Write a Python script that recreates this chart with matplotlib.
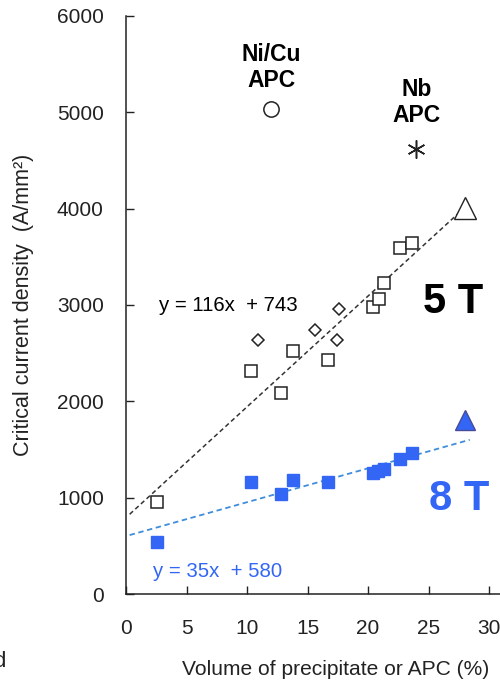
import matplotlib
matplotlib.use("Agg")
import matplotlib.pyplot as plt
import numpy as np

plt.rcParams['font.family'] = ['Liberation Sans', 'DejaVu Sans']

# 5 T data (open squares / diamonds)
sq5_x = [2.6, 10.3, 12.8, 13.8, 16.7, 20.4, 20.9, 21.3, 22.6, 23.6]
sq5_y = [955, 2320, 2090, 2520, 2430, 2980, 3060, 3230, 3590, 3645]
dia5_x = [10.9, 15.6, 17.4, 17.6]
dia5_y = [2640, 2740, 2640, 2960]
tri5_x, tri5_y = [28.0], [4010]

# 8 T data (blue filled squares)
sq8_x = [2.6, 10.3, 12.8, 13.8, 16.7, 20.4, 20.8, 21.3, 22.6, 23.6]
sq8_y = [540, 1163, 1040, 1184, 1163, 1256, 1277, 1298, 1400, 1464]
tri8_x, tri8_y = [28.0], [1807]

# APC points
nicu_x, nicu_y = [12.0], [5036]
nb_x, nb_y = [24.0], [4620]

# trend lines as drawn (slope, intercept, x range)
line5 = (115, 793, 0.3, 27.5)
line8 = (35.2, 601, 0.3, 28.4)
eq5 = 'y = 116x  + 743'
eq8 = 'y = 35x  + 580'

blue = '#3366f5'
lblue = '#3f8ddb'

fig = plt.figure(figsize=(5.0, 6.83), dpi=100)
ax = fig.add_axes([0.252, 0.1303, 0.748, 0.8463])

xl = np.linspace(line5[2], line5[3], 50)
ax.plot(xl, line5[0]*xl + line5[1], color='#333333', lw=1.1, dashes=(3, 2))
xl8 = np.linspace(line8[2], line8[3], 50)
ax.plot(xl8, line8[0]*xl8 + line8[1], color=lblue, lw=1.3, dashes=(3, 2))

ax.plot(sq5_x, sq5_y, 's', ms=8.5, mfc='white', mec='#222222', mew=1.1)
ax.plot(dia5_x, dia5_y, 'D', ms=6.5, mfc='white', mec='#222222', mew=1.1)
ax.plot(tri5_x, tri5_y, '^', ms=16, mfc='white', mec='#222222', mew=1.0)

ax.plot(sq8_x, sq8_y, 's', ms=8, mfc=blue, mec=blue)
ax.plot(tri8_x, tri8_y, '^', ms=15, mfc=blue, mec='#4a4a9a', mew=1.0)

ax.plot(nicu_x, nicu_y, 'o', ms=11, mfc='white', mec='#222222', mew=1.1)
ax.plot(nb_x, nb_y, marker=(6, 2, 0), ms=13, color='#222222', mew=1.1, ls='none')

ax.text(12.0, 5462, 'Ni/Cu\nAPC', ha='center', va='center', fontsize=16.5,
        fontweight='bold', linespacing=1.15)
ax.text(24.0, 5100, 'Nb\nAPC', ha='center', va='center', fontsize=16.5,
        fontweight='bold', linespacing=1.15)
ax.text(2.7, 2990, eq5, ha='left', va='center', fontsize=14.7)
ax.text(2.2, 230, eq8, ha='left', va='center', fontsize=14.7, color=blue)
ax.text(27.0, 3030, '5 T', ha='center', va='center', fontsize=30, fontweight='bold')
ax.text(27.5, 990, '8 T', ha='center', va='center', fontsize=30, fontweight='bold',
        color=blue)

ax.set_xlim(0, 30.9)
ax.set_ylim(0, 6000)
ax.set_xticks([0, 5, 10, 15, 20, 25, 30])
ax.set_yticks([0, 1000, 2000, 3000, 4000, 5000, 6000])
ax.tick_params(axis='both', direction='in', length=6, width=1.0, labelsize=15,
               colors='#222222')
ax.tick_params(axis='x', pad=18)
ax.tick_params(axis='y', pad=16)
for s in ['top', 'right']:
    ax.spines[s].set_visible(False)
for s in ['left', 'bottom']:
    ax.spines[s].set_color('#222222')
    ax.spines[s].set_linewidth(1.1)

ax.set_xlabel('Volume of precipitate or APC (%)', fontsize=15.1, color='#222222')
ax.xaxis.set_label_coords(0.56, -0.114)
ax.set_ylabel('Critical current density  (A/mm²)', fontsize=15.5, color='#222222')
ax.yaxis.set_label_coords(-0.245, 0.5)

fig.text(-0.014, 0.023, 'd', fontsize=16, color='#222222')

fig.savefig('out.png', dpi=100)
